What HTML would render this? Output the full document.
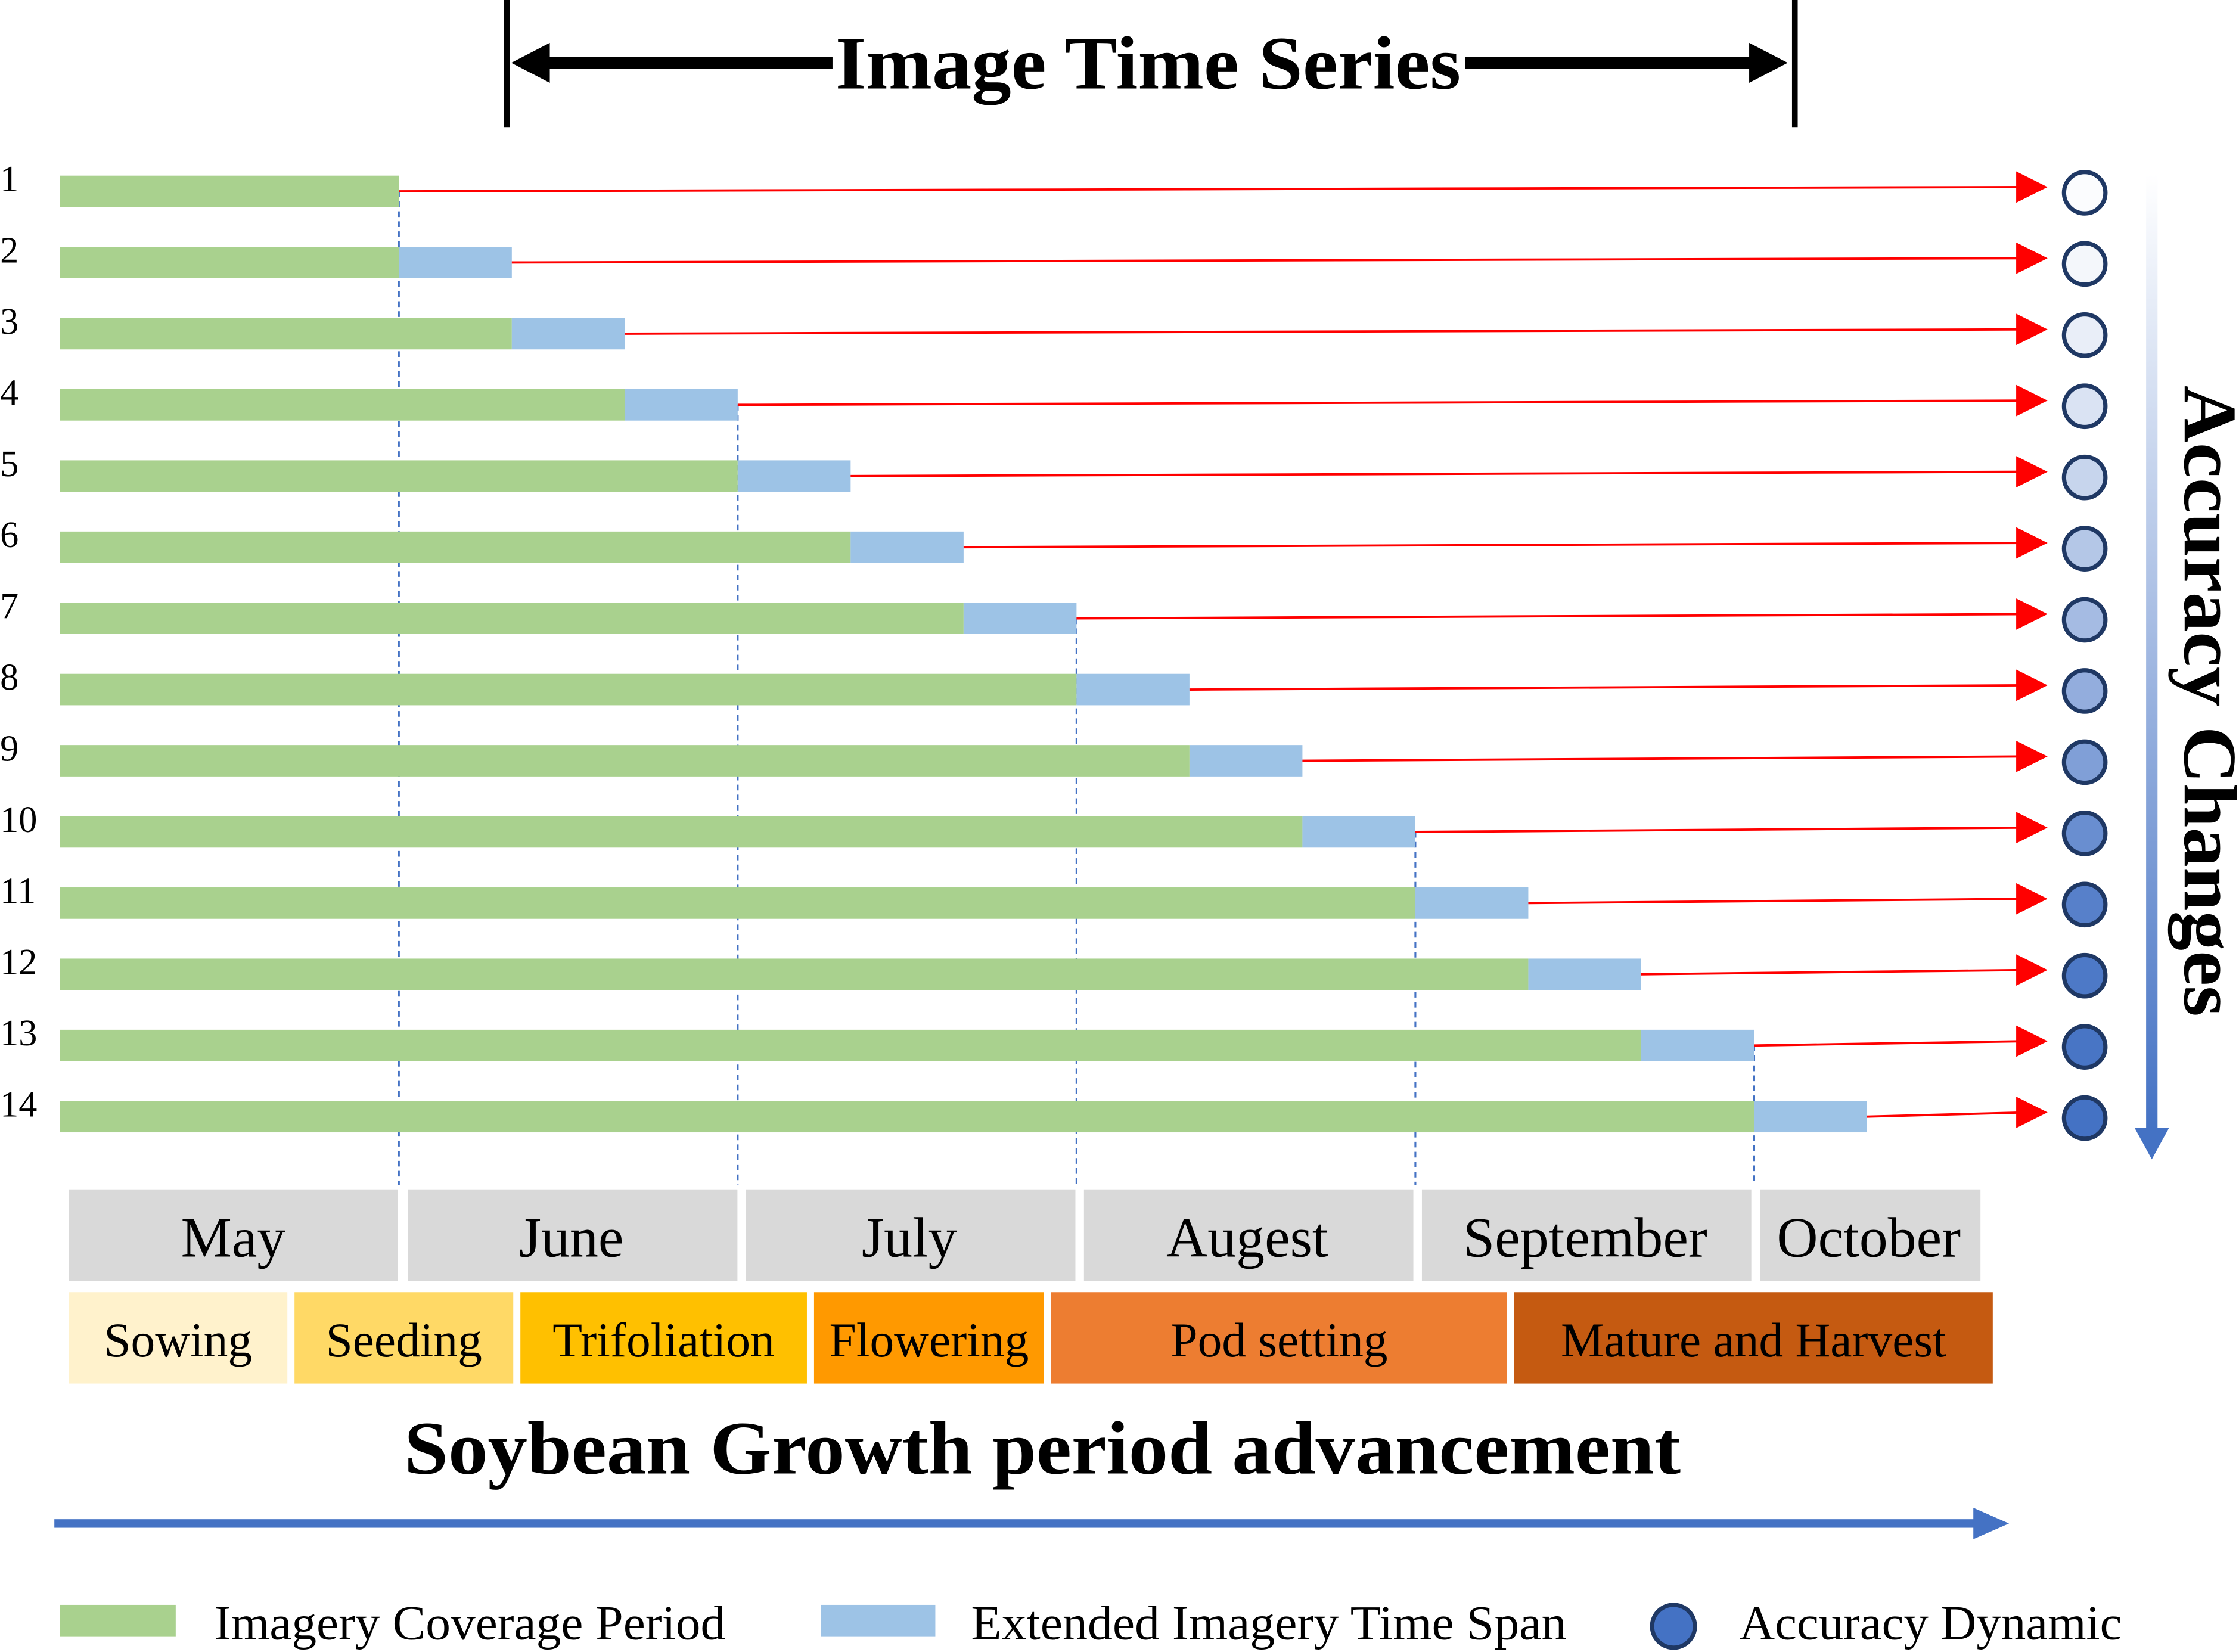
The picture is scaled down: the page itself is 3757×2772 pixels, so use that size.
<!DOCTYPE html>
<html><head><meta charset="utf-8"><style>
html,body{margin:0;padding:0;background:#fff}
svg{display:block}
text{font-family:"Liberation Serif",serif}
</style></head><body>
<svg id="chart" width="3757" height="2772" viewBox="0 0 1568 1157" xmlns="http://www.w3.org/2000/svg">
<defs>
<linearGradient id="vgrad" x1="0" y1="0" x2="0" y2="1"><stop offset="0" stop-color="#ffffff"/><stop offset="1" stop-color="#4472c4"/></linearGradient>
</defs>
<g>
<rect x="353" y="0" width="4" height="89" fill="#000"/>
<rect x="1255" y="0" width="4" height="89" fill="#000"/>
<rect x="375" y="40" width="208" height="8" fill="#000"/>
<path d="M358,44 L385,30 L385,58 z" fill="#000"/>
<rect x="1026" y="40" width="207" height="8" fill="#000"/>
<path d="M1252,44 L1225,30 L1225,58 z" fill="#000"/>
<text x="585" y="62" font-size="53" font-weight="bold" textLength="438" lengthAdjust="spacingAndGlyphs">Image Time Series</text>
</g>
<g id="rows"></g>
<g>
<rect x="1503" y="122" width="8" height="670" fill="url(#vgrad)"/>
<path d="M1495,790 L1519,790 L1507,812 z" fill="#4472c4"/>
<text transform="translate(1530,270) rotate(90)" font-size="53" font-weight="bold" textLength="442" lengthAdjust="spacingAndGlyphs">Accuracy Changes</text>
</g>
<g id="months"></g>
<g id="phases"></g>
<text x="283" y="1032" font-size="53" font-weight="bold" textLength="894" lengthAdjust="spacingAndGlyphs">Soybean Growth period advancement</text>
<rect x="38" y="1064" width="1350" height="6" fill="#4472c4"/>
<path d="M1382,1056 L1407,1067 L1382,1078 z" fill="#4472c4"/>
<g>
<rect x="42" y="1124" width="81" height="22" fill="#a9d18e"/>
<text x="150" y="1148" font-size="34" textLength="358" lengthAdjust="spacingAndGlyphs">Imagery Coverage Period</text>
<rect x="575" y="1124" width="80" height="22" fill="#9dc3e6"/>
<text x="680" y="1148" font-size="34" textLength="417" lengthAdjust="spacingAndGlyphs">Extended Imagery Time Span</text>
<circle cx="1172" cy="1139" r="15" fill="#4472c4" stroke="#1f3864" stroke-width="3"/>
<text x="1218" y="1148" font-size="34" textLength="268" lengthAdjust="spacingAndGlyphs">Accuracy Dynamic</text>
</g>
</svg>
<script>
const rowLabels = ["1","2","3","4","5","6","7","8","9","10","11","12","13","14"];
const coverageEnd = [3,3,4,5,6,7,8,9,10,11,12,13,14,15];
const extendedSpan = [0,1,1,1,1,1,1,1,1,1,1,1,1,1];
const accuracyLevel = [0.02,0.06,0.12,0.2,0.3,0.4,0.48,0.58,0.68,0.8,0.9,0.95,0.98,1.0];
const months = ["May","June","July","Augest","September","October"];
const monthStart = [0,3,6,9,12,15];
const monthEnd = [3,6,9,12,15,17];
const phases = ["Sowing","Seeding","Trifoliation","Flowering","Pod setting","Mature and Harvest"];
const phaseStart = [0,2,4,6.6,8.7,12.8];
const phaseEnd = [2,4,6.6,8.7,12.8,17.1];
const phaseColors = ["#fff2cc","#ffd966","#ffc000","#ff9900","#ed7d31","#c55a11"];
const dashedAt = [3,6,9,12,15];

const NS="http://www.w3.org/2000/svg";
const x = v => 42 + v*79.1;
const rowY = i => 134 + i*49.85;
function mk(tag, attrs, parent){const e=document.createElementNS(NS,tag);for(const k in attrs)e.setAttribute(k,attrs[k]);parent.appendChild(e);return e;}
function mix(t){const a=[255,255,255],b=[68,114,196];return `rgb(${a.map((c,i)=>Math.round(c+(b[i]-c)*t)).join(',')})`;}

const rows=document.getElementById('rows');
dashedAt.forEach((d,k)=>{
  const firstRow = coverageEnd.findIndex((c,i)=>c+extendedSpan[i]>=d);
  const l=mk('line',{x1:x(d),x2:x(d),y1:rowY(firstRow),y2:830,stroke:'#4472c4','stroke-width':1.3,'stroke-dasharray':'4,3'},rows);
  
  
});
rowLabels.forEach((lab,i)=>{
  const y=rowY(i);
  const g=mk('g',{},rows);
  
  
  const t=mk('text',{x:0,y:y,'font-size':26},g); t.textContent=lab;
  
  
  const gr=mk('rect',{x:x(0),y:y-11,width:x(coverageEnd[i])-x(0),height:22,fill:'#a9d18e'},g);
  
  
  if(extendedSpan[i]>0){
    const b=mk('rect',{x:x(coverageEnd[i]),y:y-11,width:x(coverageEnd[i]+extendedSpan[i])-x(coverageEnd[i]),height:22,fill:'#9dc3e6'},g);
    
    
  }
  const end=x(coverageEnd[i]+extendedSpan[i]);
  const ar=mk('line',{x1:end,y1:y,x2:1420,y2:y-3,stroke:'#ff0000','stroke-width':1.6},g);
  
  
  mk('path',{d:`M1412,${y-14} L1434,${y-3} L1412,${y+8} z`,fill:'#ff0000'},g);
  const c=mk('circle',{cx:1460,cy:y+1,r:14.5,fill:mix(accuracyLevel[i]),stroke:'#1f3864','stroke-width':3},g);
  
  
});
const mg=document.getElementById('months');
months.forEach((m,i)=>{
  const x0=48+monthStart[i]*78.9, x1=48+monthEnd[i]*78.9-6;
  const w = i===5 ? 1386-x0 : x1-x0;
  const r=mk('rect',{x:x0+(i?1:0),y:833,width:w,height:64,fill:'#d9d9d9'},mg);
  
  
  const t=mk('text',{x:x0+w/2,y:880,'font-size':40,'text-anchor':'middle'},mg); t.textContent=m;
  
  
});
const pg=document.getElementById('phases');
phases.forEach((p,i)=>{
  const x0=48+phaseStart[i]*79.1, x1=48+phaseEnd[i]*79.1-5;
  const r=mk('rect',{x:x0,y:905,width:x1-x0,height:64,fill:phaseColors[i]},pg);
  
  
  const t=mk('text',{x:(x0+x1)/2,y:950,'font-size':34,'text-anchor':'middle'},pg); t.textContent=p;
  
  
});
</script>
</body></html>
